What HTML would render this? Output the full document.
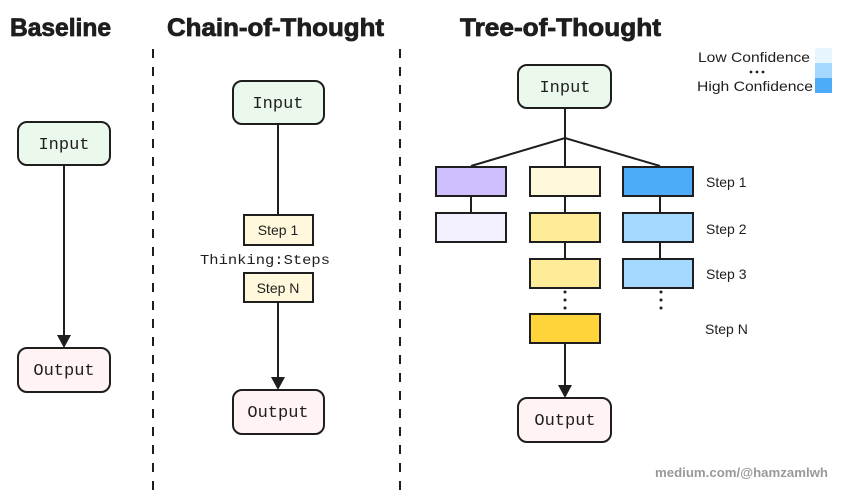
<!DOCTYPE html>
<html><head><meta charset="utf-8"><style>
html,body{margin:0;padding:0;background:#fff;}
svg{display:block;}
.t{font-family:"Liberation Sans",sans-serif;font-weight:bold;font-size:25px;fill:#1e1e1e;stroke:#1e1e1e;stroke-width:0.8;}
.m{font-family:"Liberation Mono",monospace;font-size:17px;fill:#1e1e1e;}
.s{font-family:"Liberation Sans",sans-serif;font-size:14px;fill:#1e1e1e;}
.r{stroke:#1e1e1e;stroke-width:2;}
</style></head><body>
<svg width="841" height="493" viewBox="0 0 841 493" xmlns="http://www.w3.org/2000/svg">
<text class="t" x="10" y="36" textLength="101" lengthAdjust="spacingAndGlyphs">Baseline</text>
<text class="t" x="167" y="36" textLength="217" lengthAdjust="spacingAndGlyphs">Chain-of-Thought</text>
<text class="t" x="460" y="36" textLength="201" lengthAdjust="spacingAndGlyphs">Tree-of-Thought</text>
<line x1="153" y1="49" x2="153" y2="493" stroke="#1e1e1e" stroke-width="2" stroke-dasharray="9,9"/>
<line x1="400" y1="49" x2="400" y2="493" stroke="#1e1e1e" stroke-width="2" stroke-dasharray="9,9"/>

<!-- Baseline -->
<rect x="18" y="122" width="92" height="43" rx="9" fill="#ebf9ec" class="r"/>
<text class="m" x="64" y="149" text-anchor="middle">Input</text>
<line x1="64" y1="165" x2="64" y2="336" class="r"/>
<polygon points="57,335 71,335 64,348" fill="#1e1e1e"/>
<rect x="18" y="348" width="92" height="44" rx="9" fill="#fff3f3" class="r"/>
<text class="m" x="64" y="375" text-anchor="middle">Output</text>

<!-- CoT -->
<rect x="233" y="81" width="91" height="43" rx="9" fill="#ebf9ec" class="r"/>
<text class="m" x="278" y="108" text-anchor="middle">Input</text>
<line x1="278" y1="124" x2="278" y2="215" class="r"/>
<rect x="244" y="215" width="69" height="30" fill="#fff8dc" class="r"/>
<text class="s" x="278" y="235" text-anchor="middle">Step 1</text>
<text class="m" x="265" y="264" text-anchor="middle" style="font-size:14px" textLength="130" lengthAdjust="spacingAndGlyphs">Thinking:Steps</text>
<rect x="244" y="273" width="69" height="29" fill="#fff8dc" class="r"/>
<text class="s" x="278" y="293" text-anchor="middle">Step N</text>
<line x1="278" y1="302" x2="278" y2="378" class="r"/>
<polygon points="271,377 285,377 278,390" fill="#1e1e1e"/>
<rect x="233" y="390" width="91" height="44" rx="9" fill="#fff3f3" class="r"/>
<text class="m" x="278" y="417" text-anchor="middle">Output</text>

<!-- ToT -->
<rect x="518" y="65" width="93" height="43" rx="9" fill="#ebf9ec" class="r"/>
<text class="m" x="565" y="92" text-anchor="middle">Input</text>
<line x1="565" y1="108" x2="565" y2="166" class="r"/>
<polyline points="471,166 565,138 660,166" fill="none" class="r"/>
<line x1="471" y1="196" x2="471" y2="212" class="r"/>
<line x1="565" y1="196" x2="565" y2="258" class="r"/>
<line x1="660" y1="196" x2="660" y2="258" class="r"/>
<rect x="436" y="167" width="70" height="29" fill="#d0bfff" class="r"/>
<rect x="436" y="213" width="70" height="29" fill="#f3f0ff" class="r"/>
<rect x="530" y="167" width="70" height="29" fill="#fff9db" class="r"/>
<rect x="530" y="213" width="70" height="29" fill="#ffec99" class="r"/>
<rect x="530" y="259" width="70" height="29" fill="#ffec99" class="r"/>
<rect x="530" y="314" width="70" height="29" fill="#ffd43b" class="r"/>
<rect x="623" y="167" width="70" height="29" fill="#4dabf7" class="r"/>
<rect x="623" y="213" width="70" height="29" fill="#a5d8ff" class="r"/>
<rect x="623" y="259" width="70" height="29" fill="#a5d8ff" class="r"/>
<g fill="#1e1e1e">
<circle cx="565" cy="292" r="1.5"/><circle cx="565" cy="300" r="1.5"/><circle cx="565" cy="308" r="1.5"/>
<circle cx="661" cy="292" r="1.5"/><circle cx="661" cy="300" r="1.5"/><circle cx="661" cy="308" r="1.5"/>
</g>
<text class="s" x="706" y="187">Step 1</text>
<text class="s" x="706" y="234">Step 2</text>
<text class="s" x="706" y="279">Step 3</text>
<text class="s" x="705" y="334">Step N</text>
<line x1="565" y1="343" x2="565" y2="386" class="r"/>
<polygon points="558,385 572,385 565,398" fill="#1e1e1e"/>
<rect x="518" y="398" width="93" height="44" rx="9" fill="#fff3f3" class="r"/>
<text class="m" x="565" y="425" text-anchor="middle">Output</text>

<!-- legend -->
<text class="s" x="810" y="62" text-anchor="end" textLength="112" lengthAdjust="spacingAndGlyphs">Low Confidence</text>
<g fill="#1e1e1e"><circle cx="751" cy="72" r="1.4"/><circle cx="757" cy="72" r="1.4"/><circle cx="763" cy="72" r="1.4"/></g>
<text class="s" x="813" y="91" text-anchor="end" textLength="116" lengthAdjust="spacingAndGlyphs">High Confidence</text>
<rect x="815" y="48" width="17" height="15" fill="#e7f5ff"/>
<rect x="815" y="63" width="17" height="15" fill="#a5d8ff"/>
<rect x="815" y="78" width="17" height="15" fill="#4dabf7"/>

<text x="828" y="477" text-anchor="end" textLength="173" lengthAdjust="spacingAndGlyphs" style="font-family:'Liberation Sans',sans-serif;font-size:13px;font-weight:bold;fill:#999">medium.com/@hamzamlwh</text>
</svg>
</body></html>
